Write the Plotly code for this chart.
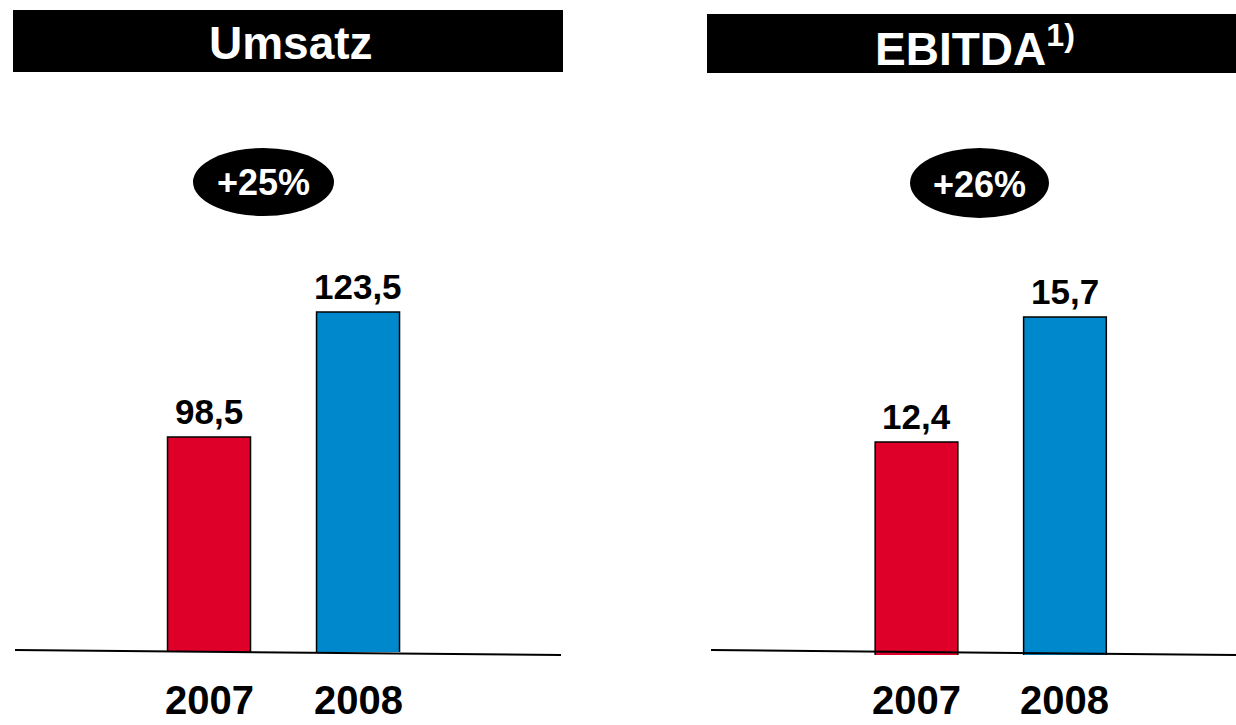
import plotly.graph_objects as go

# Data
years = ["2007", "2008"]
umsatz = [98.5, 123.5]
ebitda = [12.4, 15.7]
umsatz_labels = ["98,5", "123,5"]
ebitda_labels = ["12,4", "15,7"]
growth_labels = ["+25%", "+26%"]
panel_titles = ["Umsatz", "EBITDA<sup>1)</sup>"]

W, H = 1236, 725
FONT = "Arial, 'Liberation Sans', sans-serif"
RED = "#DE0029"
BLUE = "#0088CC"


def px(x):
    return x / W


def py(y):
    return 1 - y / H


xpos = [0, 1]
fig = go.Figure()

for vals, labels, xa, ya in [
    (umsatz, umsatz_labels, "x", "y"),
    (ebitda, ebitda_labels, "x2", "y2"),
]:
    fig.add_trace(go.Bar(
        x=xpos, y=vals, width=0.557,
        marker=dict(color=[RED, BLUE], line=dict(color="black", width=1.5)),
        xaxis=xa, yaxis=ya, showlegend=False, hoverinfo="skip",
    ))
    # value labels above the bars
    for xv, v, lab in zip(xpos, vals, labels):
        fig.add_annotation(
            x=xv, xref=xa, y=v, yref=ya, text=lab, showarrow=False,
            xanchor="center", yanchor="bottom", yshift=4,
            font=dict(family=FONT, size=35, color="black", weight="bold"),
        )
    # category labels under the base line
    for xv, yr in zip(xpos, years):
        fig.add_annotation(
            x=xv, xref=xa, y=py(700), yref="paper", text=yr, showarrow=False,
            xanchor="center", yanchor="middle", borderpad=0,
            font=dict(family=FONT, size=40, color="black", weight="bold"),
        )

axis_common = dict(visible=False, fixedrange=True)
fig.update_layout(
    width=W, height=H,
    margin=dict(l=0, r=0, t=0, b=0),
    paper_bgcolor="white", plot_bgcolor="white",
    xaxis=dict(domain=[px(15), px(561)], range=[-1.302, 2.362], **axis_common),
    yaxis=dict(domain=[py(652), py(100)], range=[55.5, 165.9], **axis_common),
    xaxis2=dict(domain=[px(711), 1.0], range=[-1.384, 2.152], **axis_common),
    yaxis2=dict(domain=[py(655), py(100)], range=[6.777, 21.43], **axis_common),
)

# Header bars
headers = [(13, 10, 563, 72), (707, 14, 1236, 73)]
for (x0, y0, x1, y1), title in zip(headers, panel_titles):
    fig.add_shape(type="rect", xref="paper", yref="paper",
                  x0=px(x0), x1=px(x1), y0=py(y1), y1=py(y0),
                  fillcolor="black", line=dict(width=0), layer="below")
    fig.add_annotation(x=px((x0 + x1) / 2 + 3), y=py((y0 + y1) / 2 + 2),
                       xref="paper", yref="paper", text=title, showarrow=False,
                       xanchor="center", yanchor="middle",
                       font=dict(family=FONT, size=46, color="white", weight="bold"))

# Growth ellipses
ellipses = [(193, 148, 334, 216), (910, 148, 1049, 218)]
for (x0, y0, x1, y1), g in zip(ellipses, growth_labels):
    fig.add_shape(type="circle", xref="paper", yref="paper",
                  x0=px(x0), x1=px(x1), y0=py(y1), y1=py(y0),
                  fillcolor="black", line=dict(width=0))
    fig.add_annotation(x=px((x0 + x1) / 2), y=py((y0 + y1) / 2 + 1),
                       xref="paper", yref="paper", text=g, showarrow=False,
                       xanchor="center", yanchor="middle",
                       font=dict(family=FONT, size=36, color="white", weight="bold"))

# Base lines
for (x0, y0, x1, y1) in [(15, 650, 561, 655), (711, 650, 1236, 655)]:
    fig.add_shape(type="line", xref="paper", yref="paper",
                  x0=px(x0), x1=px(x1), y0=py(y0), y1=py(y1),
                  line=dict(color="black", width=2))

fig.write_html("out.html")
